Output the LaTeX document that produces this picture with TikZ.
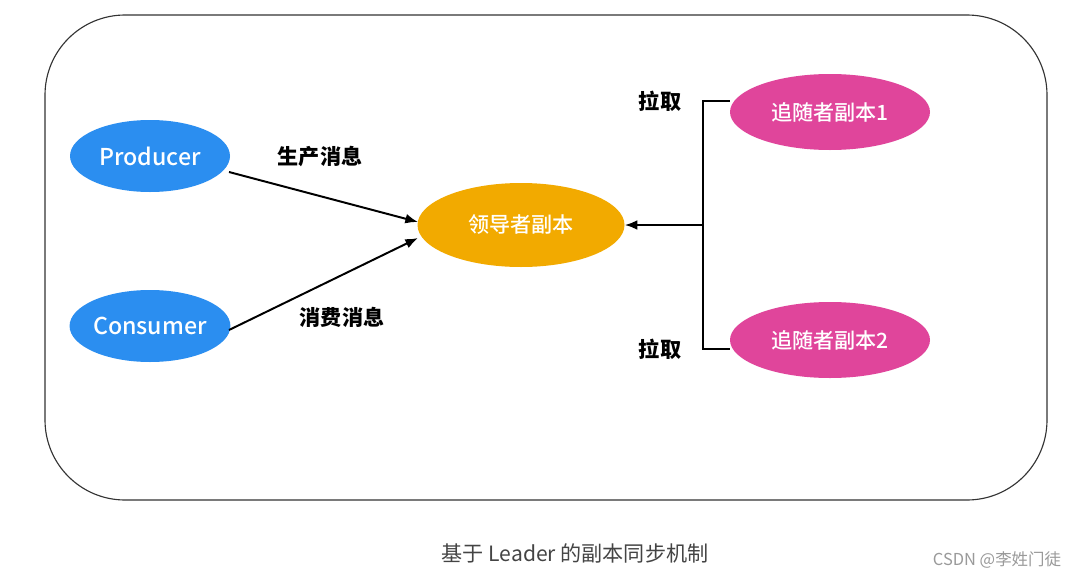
\documentclass[tikz,border=0pt]{standalone}
\usepackage{fontspec}
\setmainfont{Noto Sans CJK SC}
\newfontfamily\medfont{Noto Sans CJK SC Medium}
\usetikzlibrary{arrows.meta,shapes.geometric}
\definecolor{prodblue}{HTML}{2B8EF0}
\definecolor{leadorange}{HTML}{F2AA00}
\definecolor{followpink}{HTML}{E0459B}
\definecolor{framegray}{HTML}{333333}
\definecolor{capgray}{HTML}{444444}
\definecolor{markgray}{HTML}{9A9A9A}
\begin{document}
\begin{tikzpicture}[x=0.025cm,y=-0.025cm,
  role/.style={ellipse,draw=none,text=white,inner sep=0pt,
    font=\medfont\fontsize{15}{18}\selectfont},
  client/.style={role,fill=prodblue,minimum width=160*0.025cm,minimum height=72*0.025cm,
    font=\medfont\fontsize{16.5}{19}\selectfont},
  leader/.style={role,fill=leadorange,minimum width=207*0.025cm,minimum height=84*0.025cm},
  follower/.style={role,fill=followpink,minimum width=200*0.025cm,minimum height=76*0.025cm},
  flow/.style={line width=1.4pt,draw=black,-{Latex[length=9pt,width=7pt]}},
  link/.style={line width=1.4pt,draw=black},
  tag/.style={font=\bfseries\fontsize{15}{18}\selectfont,text=black,inner sep=0pt}]
  % canvas
  \fill[white] (0,0) rectangle (1080,579);
  \useasboundingbox (0,0) rectangle (1080,579);
  % outer frame
  \draw[framegray,line width=0.8pt,rounded corners=2cm] (45,15) rectangle (1047,500);

  % nodes
  \node[client] (prod) at (150,156) {Producer};
  \node[client] (cons) at (150,326) {Consumer};
  \node[leader] (lead) at (521,225) {领导者副本};
  \node[follower] (f1) at (830,112) {追随者副本1};
  \node[follower] (f2) at (830,340) {追随者副本2};

  % producer / consumer connectors
  \coordinate (pa) at (229,172);
  \coordinate (pb) at (418,222);
  \coordinate (ca) at (229,330);
  \coordinate (cb) at (418,238);
  \draw[flow] (pa) -- (pb);
  \draw[flow] (ca) -- (cb);
  \node[tag] (lp) at (320,157) {生产消息};
  \node[tag] (lc) at (342,317) {消费消息};

  % follower fetch bracket
  \coordinate (bt) at (703,101);
  \coordinate (bm) at (703,225);
  \coordinate (bb) at (703,349);
  \draw[link] (f1.west |- bt) -- (bt) -- (bb) -- (f2.west |- bb);
  \draw[flow] (bm) -- (lead.east);
  \node[tag] (l1) at (660,101) {拉取};
  \node[tag] (l2) at (660,349) {拉取};

  % caption and mark
  \node[text=capgray,font=\fontsize{15}{18}\selectfont,inner sep=0pt] (cap) at (575,553) {基于 Leader 的副本同步机制};
  \node[text=markgray,font=\fontsize{11.7}{14}\selectfont,inner sep=0pt] (mark) at (997,560) {CSDN @李姓门徒};
\end{tikzpicture}
\end{document}
